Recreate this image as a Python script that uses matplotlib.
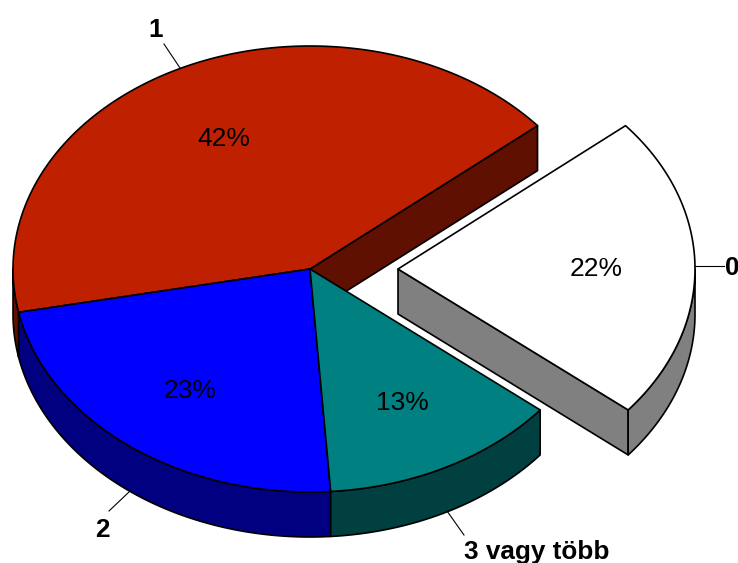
"""3D pie chart, drawn from the shares"""

import numpy as np
import matplotlib
matplotlib.use('Agg')
import matplotlib.pyplot as plt
from matplotlib.patches import Polygon

categories = ['1', '2', '3 vagy több', '0']
shares = [42, 23, 13, 22]
top_colors = ['#bf2000', '#0000ff', '#008080', '#ffffff']
side_colors = ['#5f1000', '#000080', '#004040', '#808080']
exploded = [0, 0, 0, 88]

pct_pos = [(224, 139), (190, 391), (402, 403), (596, 269)]
label_pos = [(156, 30), (102, 530), (537, 552), (732, 268)]
leaders = [((164, 44), (180, 68)), ((129, 492), (109, 511)),
           ((447, 511), (464, 535)), ((695, 266), (724, 266))]

cx, cy = 310, 269
rx, ry = 297, 223
depth = 45
start_angle = 40

plt.rcParams['font.family'] = ['Liberation Sans', 'DejaVu Sans']

fig = plt.figure(figsize=(7.38, 5.63), dpi=100)
ax = fig.add_axes([0, 0, 1, 1])
ax.set_xlim(0, 738)
ax.set_ylim(563, 0)
ax.axis('off')


def rim(a0, a1, shift):
    t = np.radians(np.linspace(a0, a1, max(2, int(abs(a1 - a0) * 2))))
    return np.column_stack([cx + shift + rx * np.cos(t), cy - ry * np.sin(t)])


def add_poly(pts, color):
    ax.add_patch(Polygon(pts, closed=True, facecolor=color, edgecolor='black',
                         linewidth=1.2, joinstyle='round'))


a0 = start_angle
for i in range(len(shares)):
    a1 = a0 + shares[i] * 3.6
    shift = exploded[i]
    centre = np.array([cx + shift, cy])
    down = np.array([0, depth])

    # cut faces, only the ones that look into the gap
    if exploded[i] or exploded[i - 1]:
        edge = rim(a0, a0, shift)[0]
        add_poly([centre, edge, edge + down, centre + down], side_colors[i])

    # outer wall, front half of the ellipse only
    lo = max(a0, 180)
    hi = min(a1, 360)
    if hi > lo:
        wall = rim(lo, hi, shift)
        add_poly(np.vstack([wall, wall[::-1] + down]), side_colors[i])
    a0 = a1

a0 = start_angle
for i in range(len(shares)):
    a1 = a0 + shares[i] * 3.6
    centre = [[cx + exploded[i], cy]]
    add_poly(np.vstack([centre, rim(a0, a1, exploded[i])]), top_colors[i])
    ax.text(pct_pos[i][0], pct_pos[i][1], '%d%%' % shares[i], fontsize=19,
            ha='center', va='center', color='black')
    ax.text(label_pos[i][0], label_pos[i][1], categories[i], fontsize=18.8,
            fontweight='bold', ha='center', va='center', color='black')
    ax.plot([leaders[i][0][0], leaders[i][1][0]], [leaders[i][0][1], leaders[i][1][1]],
            color='black', linewidth=0.8)
    a0 = a1

plt.savefig('out.png', dpi=100)
